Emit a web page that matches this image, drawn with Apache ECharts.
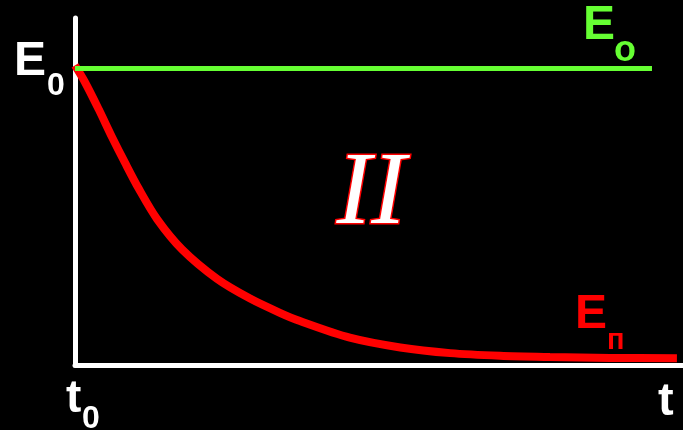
<!DOCTYPE html>
<html>
<head>
<meta charset="utf-8">
<script src="https://cdn.jsdelivr.net/npm/echarts@6/dist/echarts.min.js"></script>
<style>
html, body { margin: 0; padding: 0; background: #000; }
#main { width: 683px; height: 430px; }
</style>
</head>
<body>
<div id="main"></div>
<script>
// время (t) и энергия потока (Eп)
const tPoints = [0, 0.16, 0.39, 0.61, 0.82, 1.05, 1.35, 1.76, 2.34, 2.88, 3.37, 3.70, 4.52, 5.35, 6.17, 6.99, 7.81, 8.80, 9.90];
const ePoints = [1.01, 0.955, 0.862, 0.768, 0.683, 0.594, 0.492, 0.390, 0.290, 0.224, 0.176, 0.148, 0.092, 0.059, 0.040, 0.031, 0.027, 0.024, 0.023];
// уровень E0 (зелёная линия)
const e0Level = 1.0;
const e0Range = [0, 9.49];

const redData = tPoints.map((t, i) => [t, ePoints[i]]);
const greenData = e0Range.map((t) => [t, e0Level]);

const chart = echarts.init(document.getElementById('main'));

const bold = 'bold';
const sans = '"Liberation Sans", Arial, sans-serif';

chart.setOption({
    backgroundColor: '#000',
    animation: false,
    grid: {
        left: 75,
        right: 0,
        top: 18,
        bottom: 65
    },
    xAxis: {
        type: 'value',
        min: 0,
        max: 10,
        axisLine: { show: true, onZero: false, lineStyle: { color: '#fff', width: 5 } },
        axisTick: { show: false },
        axisLabel: { show: false },
        splitLine: { show: false }
    },
    yAxis: {
        type: 'value',
        min: 0,
        max: 1.17,
        axisLine: { show: true, onZero: false, lineStyle: { color: '#fff', width: 5 } },
        axisTick: { show: false },
        axisLabel: { show: false },
        splitLine: { show: false }
    },
    series: [
        {
            name: 'Eп',
            type: 'line',
            smooth: 0.3,
            symbol: 'none',
            lineStyle: { color: '#ff0000', width: 8 },
            data: redData
        },
        {
            name: 'Eo',
            type: 'line',
            symbol: 'none',
            lineStyle: { color: '#66ff33', width: 5 },
            data: greenData
        }
    ],
    graphic: [
        { type: 'text', left: 14, top: 38, style: { text: 'E', fill: '#fff', font: bold + ' 48px ' + sans } },
        { type: 'text', left: 47, top: 70, style: { text: '0', fill: '#fff', font: bold + ' 32px ' + sans } },
        { type: 'text', left: 583, top: 2, style: { text: 'E', fill: '#66ff33', font: bold + ' 48px ' + sans } },
        { type: 'text', left: 614, top: 33, style: { text: 'o', fill: '#66ff33', font: bold + ' 36px ' + sans } },
        { type: 'text', left: 575, top: 291, style: { text: 'E', fill: '#ff0000', font: bold + ' 48px ' + sans } },
        { type: 'text', left: 607, top: 326, style: { text: 'п', fill: '#ff0000', font: bold + ' 29px ' + sans } },
        { type: 'text', left: 658, top: 379, style: { text: 't', fill: '#fff', font: bold + ' 47px ' + sans } },
        { type: 'text', left: 66, top: 376, style: { text: 't', fill: '#fff', font: bold + ' 46px ' + sans } },
        { type: 'text', left: 82, top: 403, style: { text: '0', fill: '#fff', font: bold + ' 32px ' + sans } },
        {
            type: 'text', left: 335, top: 142,
            style: {
                text: 'II',
                fill: '#fff',
                stroke: '#ff0000',
                lineWidth: 3,
                font: 'italic 104px "Liberation Serif", "Times New Roman", serif'
            }
        }
    ]
});
</script>
</body>
</html>
